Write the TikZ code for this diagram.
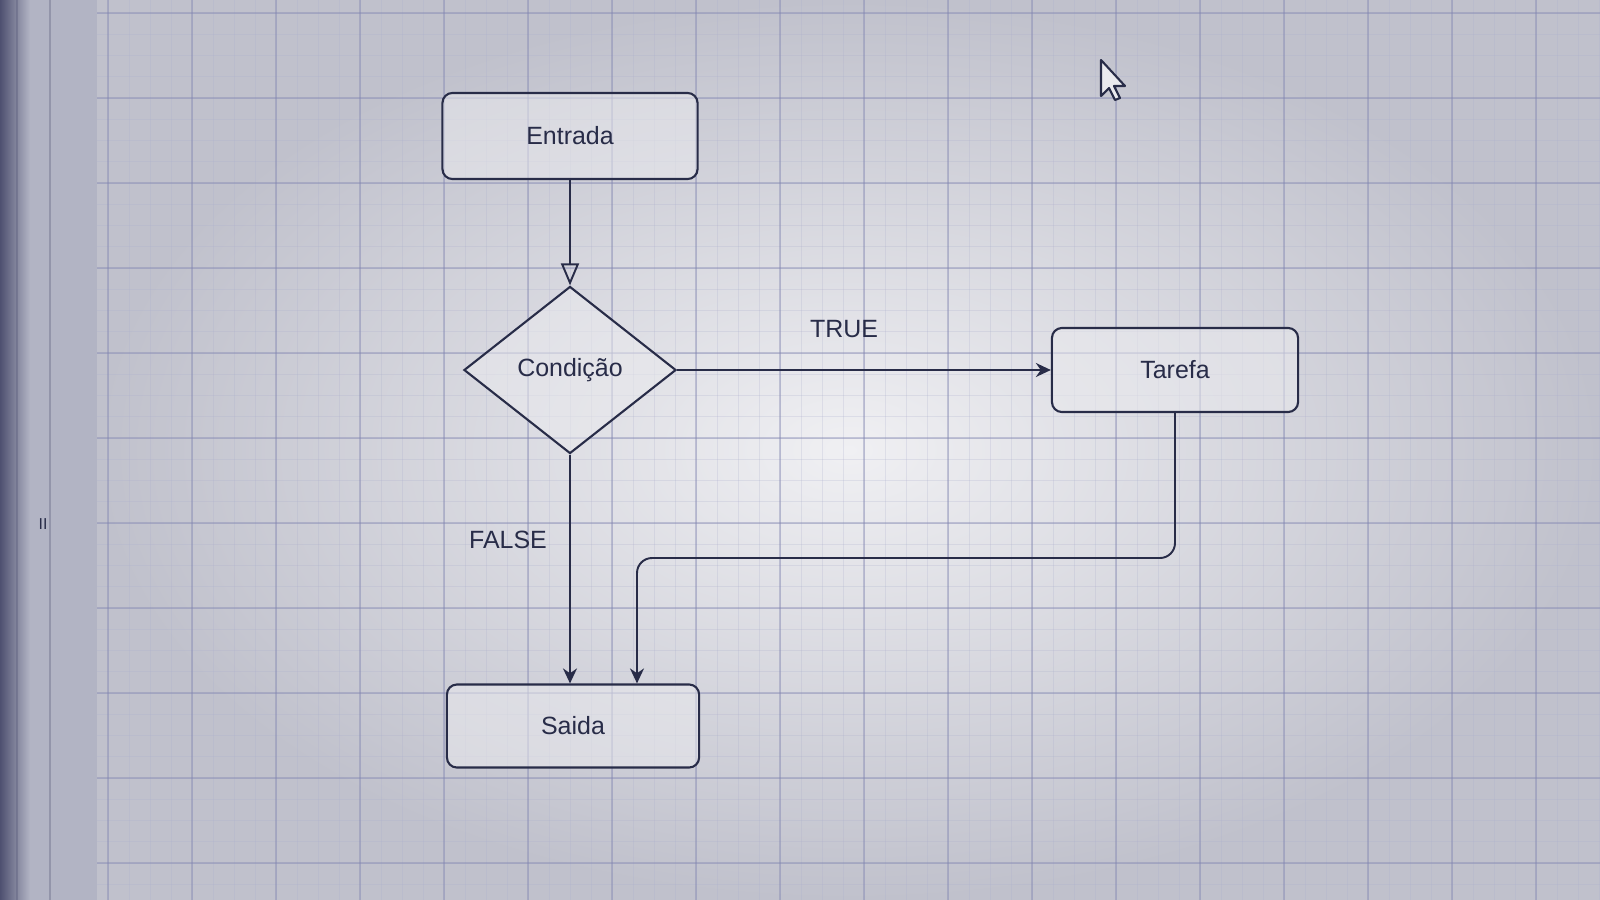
\documentclass[tikz,border=0pt]{standalone}
\usepackage{fontspec}
\setmainfont{Liberation Sans}
\usetikzlibrary{
    arrows.meta,
    positioning,
    shapes.geometric
}
\definecolor{screenink}{RGB}{40,44,72}
\definecolor{screencenter}{RGB}{240,240,243}
\definecolor{screenedge}{RGB}{192,193,204}
\definecolor{panelgray}{RGB}{178,180,196}
\definecolor{paneldark}{RGB}{78,80,112}
\definecolor{gridmajor}{RGB}{128,132,175}
\definecolor{gridminor}{RGB}{172,175,205}
\definecolor{boxfill}{RGB}{234,234,238}
\tikzset{
    % Box styles
    task box/.style={
        draw=screenink,
        fill=boxfill,
        fill opacity=0.55,
        text opacity=1,
        line width=0.6pt,
        rectangle,
        rounded corners=1mm,
        minimum height=0.85cm,
        minimum width=2.5cm,
        align=center,
        text=screenink,
        font=\fontsize{7.1}{8.5}\selectfont
    },
    decision box/.style={
        draw=screenink,
        fill=boxfill,
        fill opacity=0.55,
        text opacity=1,
        line width=0.6pt,
        diamond,
        inner sep=0pt,
        minimum width=2.12cm,
        minimum height=1.67cm,
        align=center,
        text=screenink,
        font=\fontsize{7.1}{8.5}\selectfont
    },
    % Arrow styles
    flow arrow/.style={
        -{Stealth[length=1.5mm,width=1.4mm]},
        line width=0.55pt,
        screenink
    },
    entry arrow/.style={
        -{Triangle[open,length=2.2mm,width=1.8mm]},
        line width=0.55pt,
        screenink
    },
    % Label styles
    edge label/.style={
        text=screenink,
        font=\fontsize{7.1}{8.5}\selectfont
    },
    grid line/.style={
        gridminor,
        line width=0.25pt,
        opacity=0.25
    },
    grid major/.style={
        gridmajor,
        line width=0.4pt,
        opacity=0.4
    }
}

\begin{document}
\begin{tikzpicture}[x=0.01cm, y=-0.01cm]
        \useasboundingbox (0,0) rectangle (1600,900);

        % Screen background
        \shade[inner color=screencenter, outer color=screenedge] (97,0) rectangle (1600,900);
        \fill[panelgray] (0,0) rectangle (97,900);
        \shade[left color=paneldark, right color=panelgray] (0,0) rectangle (30,900);
        \draw[paneldark, opacity=0.3, line width=0.4pt] (17,0) -- (17,900) (50,0) -- (50,900);

        % Grid
        \foreach \gx in {108,129,...,1600} {
            \draw[grid line] (\gx,0) -- (\gx,900);
        }
        \foreach \gy in {13,34.25,...,900} {
            \draw[grid line] (97,\gy) -- (1600,\gy);
        }
        \foreach \gx in {108,192,...,1600} {
            \draw[grid major] (\gx,0) -- (\gx,900);
        }
        \foreach \gy in {13,98,...,900} {
            \draw[grid major] (97,\gy) -- (1600,\gy);
        }

        \node[text=screenink, font=\fontsize{4.5}{5}\selectfont] (mark) at (43,524) {II};

        % Mouse pointer
        \draw[screenink, line width=0.6pt, fill=boxfill, line join=round]
            (1101,60) -- (1101,96) -- (1109,88) -- (1115,100) -- (1120,98)
            -- (1114,86) -- (1125,86) -- cycle;

        % Flowchart
        \node[task box, minimum width=2.55cm, minimum height=0.86cm] (entrada) at (570,136) {Entrada};
        \node[decision box] (condicao) at (570,370) {Condição};
        \node[task box, minimum width=2.46cm, minimum height=0.84cm] (tarefa) at (1175,370) {Tarefa};
        \node[task box, minimum width=2.52cm, minimum height=0.83cm] (saida) at (573,726) {Saida};

        % Connections
        \draw[entry arrow] (entrada.south) -- (condicao.north);
        \draw[flow arrow] (condicao.east) -- (tarefa.west);
        \draw[flow arrow] (condicao.south) -- (condicao.south |- saida.north);

        \coordinate (loop) at (637,558);
        \draw[flow arrow, rounded corners=1.5mm] (tarefa.south) |- (loop) -- (loop |- saida.north);

        % Labels
        \node[edge label] (true) at (844,329) {TRUE};
        \node[edge label] (false) at (508,540) {FALSE};
    \end{tikzpicture}
\end{document}
